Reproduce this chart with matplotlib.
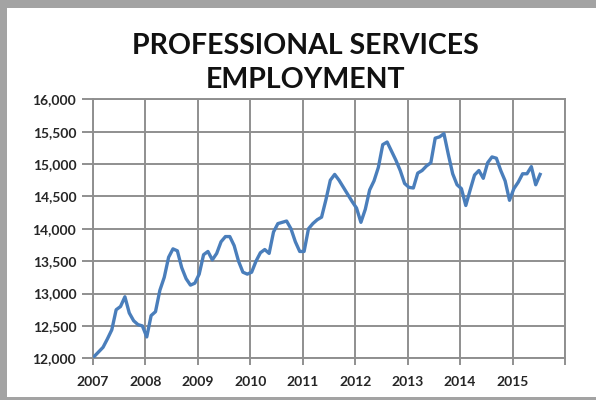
import matplotlib
matplotlib.use("Agg")
import matplotlib.pyplot as plt
from matplotlib.patches import Rectangle
import numpy as np

start_year = 2007
employment = [
    12030, 12100, 12170, 12300, 12440, 12750, 12800, 12950, 12700, 12580, 12520, 12500,
    12330, 12660, 12720, 13050, 13250, 13560, 13690, 13660, 13400, 13230, 13130, 13160,
    13300, 13600, 13650, 13520, 13620, 13800, 13880, 13880, 13740, 13500, 13330, 13300,
    13330, 13500, 13630, 13680, 13620, 13950, 14080, 14100, 14120, 14000, 13800, 13650,
    13650, 14000, 14080, 14140, 14180, 14450, 14750, 14840, 14750, 14640, 14530, 14420,
    14320, 14100, 14300, 14600, 14740, 14950, 15300, 15340, 15200, 15060, 14900, 14700,
    14640, 14630, 14860, 14900, 14970, 15020, 15400, 15420, 15470, 15150, 14850, 14680,
    14620, 14360, 14600, 14830, 14900, 14780, 15020, 15110, 15090, 14900, 14740, 14440,
    14620, 14720, 14850, 14850, 14960, 14680, 14840,
]
x_ticks = [2007, 2008, 2009, 2010, 2011, 2012, 2013, 2014, 2015, 2016]
x_labels = ["2007", "2008", "2009", "2010", "2011", "2012", "2013", "2014", "2015", ""]
y_ticks = [12000, 12500, 13000, 13500, 14000, 14500, 15000, 15500, 16000]
title = "PROFESSIONAL SERVICES\nEMPLOYMENT"

plt.rcParams['font.family'] = ['Lato', 'DejaVu Sans']

fig = plt.figure(figsize=(5.96, 4.0), dpi=100)
ax = fig.add_axes([93/596, 1 - 358.3/400, (565 - 93)/596, (358.3 - 99.3)/400])

months = start_year + 0.025 + np.arange(len(employment)) / 12.0
ax.plot(months, employment, color="#4a7ebb", linewidth=2.4, solid_joinstyle="round", zorder=3)

ax.set_xlim(2007, 2016)
ax.set_ylim(12000, 16000)
ax.set_xticks(x_ticks)
ax.set_xticklabels(x_labels)
ax.set_yticks(y_ticks)
ax.set_yticklabels([f"{v:,}" for v in y_ticks])

grid_c = "#8f8f8f"
ax.grid(True, color=grid_c, linewidth=1.4)
ax.set_axisbelow(True)
for s in ax.spines.values():
    s.set_color(grid_c)
    s.set_linewidth(1.4)
ax.tick_params(axis="both", colors=grid_c, width=1.4, labelcolor="#262626",
               labelsize=10)
ax.tick_params(axis="y", length=8, pad=4)
ax.tick_params(axis="x", length=5, pad=8)
for lbl in ax.get_xticklabels() + ax.get_yticklabels():
    lbl.set_fontweight("bold")

fig.text(0.512, 0.843, title, ha="center", va="center", fontsize=20.5,
         fontweight="bold", color="#111111", linespacing=1.4)

# gray frame around the picture
fig.patches.append(Rectangle((0, 1 - 8/400), 1, 8/400, transform=fig.transFigure,
                             facecolor="#a3a3a3", edgecolor="none"))
fig.patches.append(Rectangle((0, 0), 7/596, 1, transform=fig.transFigure,
                             facecolor="#a3a3a3", edgecolor="none"))
fig.patches.append(Rectangle((0, 0), 1, 3/400, transform=fig.transFigure,
                             facecolor="#a3a3a3", edgecolor="none"))

fig.savefig("out.png", dpi=100)
